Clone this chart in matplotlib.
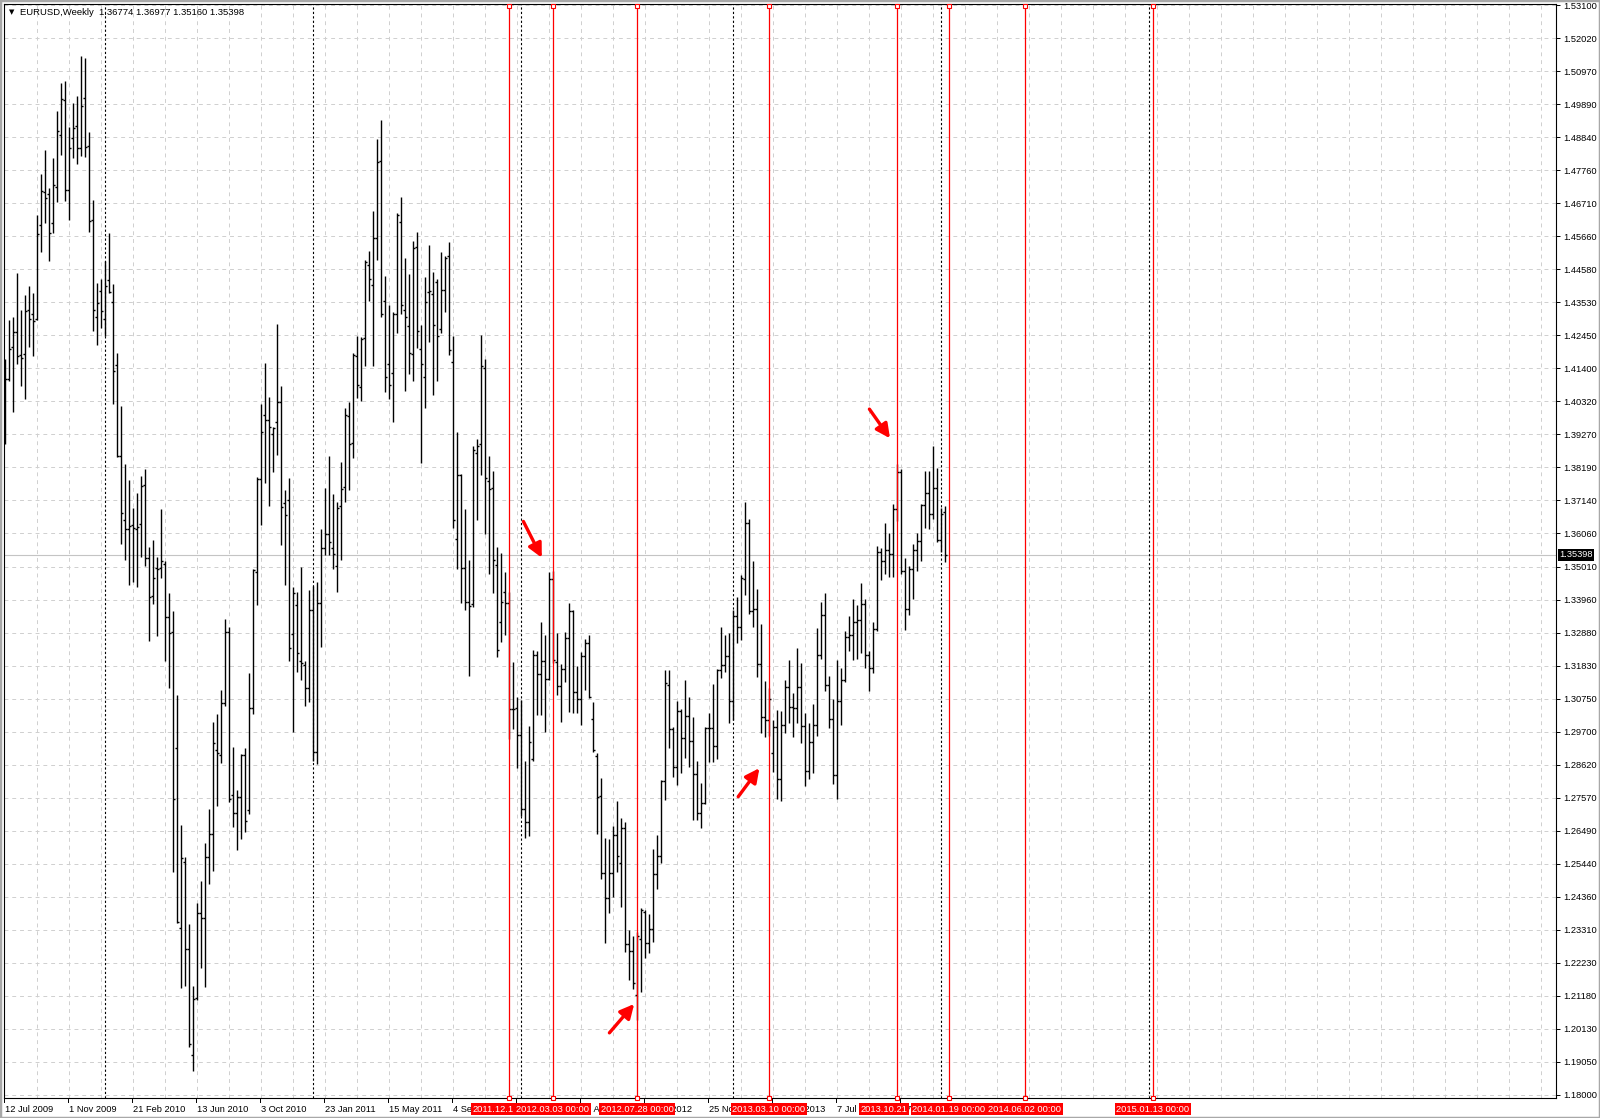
import numpy as np
import matplotlib
matplotlib.use("Agg")
import matplotlib.pyplot as plt
from matplotlib.collections import LineCollection
from matplotlib.patches import Rectangle

plt.rcParams['font.family'] = ['Liberation Sans', 'DejaVu Sans']

# EURUSD weekly bars, first bar = week of 12 Jul 2009
opens = [
    1.3960, 1.4105, 1.4210, 1.4256, 1.4185, 1.4186, 1.4330, 1.4317, 1.4301, 1.4603,
    1.4708, 1.4702, 1.4610, 1.4725, 1.4891, 1.5005, 1.4715, 1.4883, 1.4921, 1.4852,
    1.5010, 1.4858, 1.4618, 1.4307, 1.4390, 1.4301, 1.4426, 1.4354, 1.4152, 1.3859,
    1.3651, 1.3623, 1.3637, 1.3623, 1.3640, 1.3763, 1.3530, 1.3407, 1.3496, 1.3497,
    1.3510, 1.3338, 1.3290, 1.2916, 1.2338, 1.2550, 1.2268, 1.1927, 1.2110, 1.2385,
    1.2370, 1.2565, 1.2640, 1.2911, 1.2893, 1.3061, 1.3291, 1.2765, 1.2708, 1.2760,
    1.2893, 1.2718, 1.3046, 1.3483, 1.3785, 1.3991, 1.3974, 1.3930, 1.3967, 1.4033,
    1.3705, 1.3717, 1.3283, 1.3377, 1.3197, 1.3186, 1.3111, 1.3361, 1.2905, 1.3384,
    1.3560, 1.3608, 1.3561, 1.3504, 1.3697, 1.3758, 1.3986, 1.3900, 1.4181, 1.4080,
    1.4237, 1.4474, 1.4409, 1.4561, 1.4809, 1.4359, 1.4154, 1.4124, 1.4317, 1.4612,
    1.4328, 1.4276, 1.4188, 1.4531, 1.4203, 1.4113, 1.4385, 1.4379, 1.4420, 1.4266,
    1.4393, 1.4501, 1.4162, 1.3592, 1.3797, 1.3497, 1.3386, 1.3380, 1.3866, 1.3897,
    1.4141, 1.3777, 1.3755, 1.3508, 1.3322, 1.3420, 1.3384, 1.3042, 1.3045, 1.2959,
    1.2720, 1.2680, 1.2880, 1.3218, 1.3156, 1.3198, 1.3140, 1.3462, 1.3194, 1.3118,
    1.3170, 1.3270, 1.3359, 1.3096, 1.3075, 1.3214, 1.3255, 1.3011, 1.2890, 1.2763,
    1.2515, 1.2435, 1.2513, 1.2637, 1.2546, 1.2659, 1.2286, 1.2264, 1.2121, 1.2300,
    1.2390, 1.2288, 1.2333, 1.2510, 1.2570, 1.2809, 1.3120, 1.2978, 1.2857, 1.3035,
    1.2949, 1.3021, 1.2938, 1.2832, 1.2709, 1.2741, 1.2981, 1.2981, 1.2924, 1.3167,
    1.3185, 1.3214, 1.3067, 1.3341, 1.3308, 1.3462, 1.3641, 1.3357, 1.3364, 1.3188,
    1.3016, 1.3006, 1.2900, 1.2985, 1.2817, 1.2992, 1.3113, 1.3050, 1.3045, 1.3113,
    1.2987, 1.2844, 1.2935, 1.2992, 1.3217, 1.3345, 1.3120, 1.3010, 1.2830, 1.3067,
    1.3137, 1.3276, 1.3281, 1.3324, 1.3330, 1.3381, 1.3217, 1.3175, 1.3300, 1.3550,
    1.3518, 1.3555, 1.3543, 1.3686, 1.3805, 1.3486, 1.3365, 1.3495, 1.3555, 1.3585,
    1.3700, 1.3740, 1.3670, 1.3754, 1.3588, 1.36774,
]
highs = [
    1.4170, 1.4295, 1.4307, 1.4447, 1.4329, 1.4377, 1.4407, 1.4384, 1.4636, 1.4768,
    1.4845, 1.4721, 1.4819, 1.4970, 1.5061, 1.5065, 1.4919, 1.4995, 1.5018, 1.5148,
    1.5142, 1.4903, 1.4683, 1.4416, 1.4428, 1.4486, 1.4577, 1.4412, 1.4190, 1.4019,
    1.3833, 1.3781, 1.3689, 1.3738, 1.3794, 1.3817, 1.3566, 1.3587, 1.3533, 1.3686,
    1.3518, 1.3416, 1.3357, 1.3088, 1.2669, 1.2565, 1.2349, 1.2151, 1.2416, 1.2487,
    1.2612, 1.2721, 1.3002, 1.3025, 1.3104, 1.3333, 1.3307, 1.2921, 1.2780, 1.2896,
    1.2916, 1.3158, 1.3494, 1.3791, 1.4025, 1.4158, 1.4049, 1.3952, 1.4283, 1.4083,
    1.3749, 1.3786, 1.3436, 1.3421, 1.3499, 1.3197, 1.3425, 1.3439, 1.3452, 1.3622,
    1.3755, 1.3859, 1.3737, 1.3710, 1.3839, 1.4011, 1.4032, 1.4189, 1.4246, 1.4243,
    1.4490, 1.4520, 1.4646, 1.4881, 1.4941, 1.4439, 1.4344, 1.4321, 1.4642, 1.4694,
    1.4497, 1.4443, 1.4551, 1.4579, 1.4280, 1.4436, 1.4537, 1.4452, 1.4429, 1.4515,
    1.4504, 1.4547, 1.4246, 1.3936, 1.3800, 1.3688, 1.3523, 1.3891, 1.3914, 1.4247,
    1.4169, 1.3858, 1.3811, 1.3566, 1.3545, 1.3484, 1.3420, 1.3194, 1.3080, 1.3072,
    1.2876, 1.2987, 1.3233, 1.3228, 1.3322, 1.3281, 1.3483, 1.3486, 1.3286, 1.3187,
    1.3292, 1.3384, 1.3362, 1.3181, 1.3225, 1.3267, 1.3281, 1.3064, 1.2900, 1.2820,
    1.2626, 1.2623, 1.2666, 1.2747, 1.2691, 1.2680, 1.2329, 1.2310, 1.2325, 1.2401,
    1.2395, 1.2383, 1.2591, 1.2637, 1.2814, 1.3167, 1.3169, 1.2984, 1.3070, 1.3042,
    1.3137, 1.3081, 1.3018, 1.2876, 1.2804, 1.2986, 1.3029, 1.3124, 1.3172, 1.3308,
    1.3282, 1.3287, 1.3362, 1.3403, 1.3475, 1.3711, 1.3654, 1.3518, 1.3429, 1.3317,
    1.3133, 1.3110, 1.3008, 1.3040, 1.3035, 1.3137, 1.3201, 1.3094, 1.3239, 1.3190,
    1.3029, 1.2997, 1.3059, 1.3303, 1.3389, 1.3415, 1.3149, 1.3074, 1.3202, 1.3174,
    1.3294, 1.3343, 1.3396, 1.3378, 1.3450, 1.3396, 1.3228, 1.3324, 1.3568, 1.3561,
    1.3643, 1.3609, 1.3704, 1.3832, 1.3815, 1.3530, 1.3502, 1.3575, 1.3611, 1.3704,
    1.3811, 1.3810, 1.3891, 1.3819, 1.3690, 1.36977,
]
lows = [
    1.3897, 1.4100, 1.4001, 1.4154, 1.4084, 1.4042, 1.4209, 1.4180, 1.4297, 1.4514,
    1.4610, 1.4486, 1.4575, 1.4677, 1.4827, 1.4679, 1.4619, 1.4819, 1.4798, 1.4826,
    1.4822, 1.4581, 1.4260, 1.4215, 1.4269, 1.4244, 1.4384, 1.4027, 1.3855, 1.3575,
    1.3524, 1.3441, 1.3451, 1.3435, 1.3534, 1.3502, 1.3263, 1.3380, 1.3279, 1.3466,
    1.3196, 1.3111, 1.2518, 1.2354, 1.2143, 1.2151, 1.1955, 1.1876, 1.2105, 1.2209,
    1.2146, 1.2479, 1.2521, 1.2729, 1.2869, 1.3052, 1.2744, 1.2662, 1.2588, 1.2624,
    1.2646, 1.2705, 1.3025, 1.3377, 1.3635, 1.3771, 1.3697, 1.3806, 1.3861, 1.3572,
    1.3443, 1.3197, 1.2968, 1.3161, 1.3135, 1.3052, 1.3066, 1.2875, 1.2865, 1.3242,
    1.3538, 1.3538, 1.3493, 1.3421, 1.3523, 1.3710, 1.3747, 1.3853, 1.4045, 1.4036,
    1.4148, 1.4357, 1.4148, 1.4490, 1.4307, 1.4063, 1.4043, 1.3968, 1.4253, 1.4317,
    1.4067, 1.4121, 1.4100, 1.4205, 1.3836, 1.4011, 1.4226, 1.4053, 1.4100, 1.4253,
    1.4321, 1.4184, 1.3625, 1.3495, 1.3383, 1.3361, 1.3148, 1.3370, 1.3651, 1.3797,
    1.3606, 1.3478, 1.3417, 1.3211, 1.3257, 1.3281, 1.2946, 1.2979, 1.2852, 1.2698,
    1.2626, 1.2632, 1.2874, 1.3022, 1.3022, 1.2970, 1.3135, 1.3190, 1.3089, 1.3000,
    1.3131, 1.3033, 1.3031, 1.3031, 1.2992, 1.3104, 1.3078, 1.2904, 1.2641, 1.2495,
    1.2288, 1.2385, 1.2438, 1.2516, 1.2404, 1.2258, 1.2170, 1.2140, 1.2042, 1.2132,
    1.2240, 1.2256, 1.2293, 1.2462, 1.2546, 1.2750, 1.2916, 1.2825, 1.2798, 1.2836,
    1.2884, 1.2855, 1.2686, 1.2686, 1.2659, 1.2735, 1.2873, 1.2873, 1.2881, 1.3142,
    1.3163, 1.2997, 1.3008, 1.3255, 1.3265, 1.3410, 1.3349, 1.3306, 1.3145, 1.2965,
    1.2952, 1.2955, 1.2841, 1.2752, 1.2745, 1.2965, 1.2999, 1.2952, 1.2999, 1.2932,
    1.2793, 1.2817, 1.2836, 1.2954, 1.3205, 1.3100, 1.2981, 1.2801, 1.2753, 1.2992,
    1.3130, 1.3228, 1.3201, 1.3203, 1.3222, 1.3174, 1.3102, 1.3159, 1.3295, 1.3459,
    1.3478, 1.3469, 1.3469, 1.3650, 1.3478, 1.3296, 1.3346, 1.3396, 1.3486, 1.3521,
    1.3625, 1.3622, 1.3655, 1.3582, 1.3548, 1.35160,
]
closes = [
    1.4105, 1.4203, 1.4256, 1.4180, 1.4173, 1.4326, 1.4301, 1.4294, 1.4572, 1.4711,
    1.4689, 1.4577, 1.4730, 1.4906, 1.5008, 1.4715, 1.4849, 1.4916, 1.4852, 1.4985,
    1.4855, 1.4616, 1.4330, 1.4352, 1.4326, 1.4407, 1.4388, 1.4131, 1.3859, 1.3673,
    1.3622, 1.3632, 1.3626, 1.3628, 1.3762, 1.3530, 1.3403, 1.3466, 1.3495, 1.3520,
    1.3338, 1.3289, 1.2752, 1.2357, 1.2562, 1.2268, 1.1963, 1.2107, 1.2385, 1.2370,
    1.2565, 1.2640, 1.2932, 1.2901, 1.3061, 1.3291, 1.2752, 1.2708, 1.2760, 1.2893,
    1.2682, 1.3046, 1.3489, 1.3785, 1.3936, 1.3974, 1.3952, 1.3947, 1.4033, 1.3692,
    1.3669, 1.3240, 1.3416, 1.3224, 1.3190, 1.3111, 1.3361, 1.2905, 1.3384, 1.3560,
    1.3608, 1.3581, 1.3543, 1.3690, 1.3751, 1.3991, 1.3896, 1.4185, 1.4086, 1.4235,
    1.4484, 1.4429, 1.4561, 1.4805, 1.4314, 1.4114, 1.4086, 1.4317, 1.4633, 1.4344,
    1.4307, 1.4189, 1.4528, 1.4262, 1.4154, 1.4355, 1.4389, 1.4280, 1.4246, 1.4393,
    1.4497, 1.4201, 1.3652, 1.3797, 1.3497, 1.3386, 1.3375, 1.3877, 1.3891, 1.4149,
    1.3786, 1.3750, 1.3522, 1.3233, 1.3389, 1.3384, 1.3042, 1.3043, 1.2959, 1.2720,
    1.2680, 1.2935, 1.3218, 1.3156, 1.3198, 1.3140, 1.3462, 1.3200, 1.3118, 1.3170,
    1.3270, 1.3359, 1.3096, 1.3076, 1.3214, 1.3255, 1.3081, 1.2909, 1.2759, 1.2515,
    1.2435, 1.2513, 1.2637, 1.2570, 1.2659, 1.2286, 1.2264, 1.2159, 1.2310, 1.2395,
    1.2288, 1.2333, 1.2510, 1.2570, 1.2809, 1.3126, 1.2978, 1.2857, 1.3035, 1.2949,
    1.3021, 1.2938, 1.2832, 1.2709, 1.2741, 1.2981, 1.2981, 1.2924, 1.3167, 1.3185,
    1.3214, 1.3067, 1.3341, 1.3308, 1.3464, 1.3641, 1.3357, 1.3364, 1.3188, 1.3016,
    1.3006, 1.3075, 1.2985, 1.2817, 1.2992, 1.3113, 1.3050, 1.3045, 1.3113, 1.2987,
    1.2844, 1.2935, 1.2992, 1.3217, 1.3345, 1.3120, 1.3010, 1.2830, 1.3067, 1.3137,
    1.3276, 1.3281, 1.3324, 1.3330, 1.3381, 1.3217, 1.3175, 1.3300, 1.3550, 1.3518,
    1.3555, 1.3543, 1.3686, 1.3805, 1.3486, 1.3365, 1.3495, 1.3555, 1.3585, 1.3700,
    1.3740, 1.3670, 1.3754, 1.3588, 1.3670, 1.35398,
]

price_labels = ['1.53100', '1.52020', '1.50970', '1.49890', '1.48840', '1.47760',
                '1.46710', '1.45660', '1.44580', '1.43530', '1.42450', '1.41400',
                '1.40320', '1.39270', '1.38190', '1.37140', '1.36060', '1.35010',
                '1.33960', '1.32880', '1.31830', '1.30750', '1.29700', '1.28620',
                '1.27570', '1.26490', '1.25440', '1.24360', '1.23310', '1.22230',
                '1.21180', '1.20130', '1.19050', '1.18000']
date_labels = ['12 Jul 2009', '1 Nov 2009', '21 Feb 2010', '13 Jun 2010', '3 Oct 2010',
               '23 Jan 2011', '15 May 2011', '4 Sep 2011', '25 Dec 2011', '15 Apr 2012',
               '5 Aug 2012', '25 Nov 2012', '17 Mar 2013', '7 Jul 2013', '27 Oct 2013']
date_label_bars = [0, 16, 32, 48, 64, 80, 96, 112, 128, 144, 160, 176, 192, 208, 224]
year_sep_bars = [25, 77, 129, 182, 234, 286]

vline_bars = [126, 137, 158, 191, 223, 236, 255, 287]
# label texts as visible on the time axis (two of them are cut by the next label)
vline_texts = ['2011.12.1', '2012.03.03 00:00', '2012.07.28 00:00',
               '2013.03.10 00:00', '2013.10.21', '2014.01.19 00:00',
               '2014.06.02 00:00', '2015.01.13 00:00']
vline_cut = [True, False, False, False, True, False, False, False]

arrow_from = [(129.6, 1.3647), (151.1, 1.1999), (183.3, 1.2760), (216.1, 1.4009)]
arrow_to = [(134.2, 1.3530), (157.3, 1.2092), (188.6, 1.2852), (221.25, 1.3915)]

last_price = 1.35398
title = 'EURUSD,Weekly  1.36774 1.36977 1.35160 1.35398'

# ---- figure / axes laid out in pixels
W, H = 1600, 1118
fig = plt.figure(figsize=(W / 100, H / 100), dpi=100)
ax_l, ax_r, ax_t, ax_b = 3.5, 1556, 3.5, 1097.5
ax = fig.add_axes([ax_l / W, 1 - ax_b / H, (ax_r - ax_l) / W, (ax_b - ax_t) / H])

ppx = 0.351 / 1089.2  # price per pixel
ax.set_ylim(1.18 - (ax_b - 1094.6) * ppx, 1.18 + (1094.6 - ax_t) * ppx)
ax.set_xlim((ax_l - 5) / 4, (ax_r - 5) / 4)

ticks = np.linspace(1.531, 1.18, len(price_labels))
ax.yaxis.tick_right()
ax.set_yticks(ticks)
ax.set_yticklabels(price_labels)
ax.tick_params(axis='y', direction='out', length=3, width=0.7, pad=2.5,
               labelsize=6.7, colors='black')
ax.set_xticks([])
for s in ax.spines.values():
    s.set_color('black')
    s.set_linewidth(0.8)

# grid
for t in ticks:
    ax.axhline(t, color='#cfcfcf', lw=0.7, ls=(0, (4, 4)), zorder=0)
for k in range(8, 388, 8):
    ax.axvline(k, color='#cfcfcf', lw=0.7, ls=(0, (4, 4)), zorder=0)

# current price line
ax.axhline(last_price, color='#c4c4c4', lw=0.8, zorder=1)

# year separators
for k in year_sep_bars:
    ax.axvline(k, color='black', lw=0.8, ls=(0, (2, 2)), zorder=2)

# OHLC bars
segs = []
for i in range(len(closes)):
    segs.append([(i, lows[i]), (i, highs[i])])
    segs.append([(i - 0.55, opens[i]), (i, opens[i])])
    segs.append([(i, closes[i]), (i + 0.55, closes[i])])
ax.add_collection(LineCollection(segs, colors='black', linewidths=1.0, zorder=3))

# red vertical lines
xt = ax.get_xaxis_transform()
for k in vline_bars:
    ax.axvline(k, color='red', lw=0.9, zorder=5)
ax.plot(vline_bars, [0.9975] * len(vline_bars), 's', ms=3.2, mfc='white', mec='red',
        mew=0.8, transform=xt, clip_on=False, zorder=6)
ax.plot(vline_bars, [0.0] * len(vline_bars), 's', ms=3.2, mfc='white', mec='red',
        mew=0.8, transform=xt, clip_on=False, zorder=6)

# arrows
for a, b in zip(arrow_from, arrow_to):
    ax.annotate('', xy=b, xytext=a,
                arrowprops=dict(arrowstyle='-|>,head_length=0.7,head_width=0.35',
                                color='red', lw=2.4, shrinkA=0, shrinkB=0,
                                mutation_scale=12), zorder=7)

# time axis labels
lab_y = (ax_b - 1109) / (ax_b - ax_t)
for k, s in zip(date_label_bars, date_labels):
    ax.plot([k - 0.3, k - 0.3], [0, -0.004], color='black', lw=0.7,
            transform=xt, clip_on=False, zorder=3)
    ax.text(k + 0.1, lab_y, s, transform=xt, ha='left', va='center',
            fontsize=6.7, color='black', clip_on=False, zorder=3)
for i, (k, s, cut) in enumerate(zip(vline_bars, vline_texts, vline_cut)):
    if cut:
        xpos, ha = k - 9.1, 'left'
    else:
        xpos, ha = k, 'center'
    ax.text(xpos, lab_y, s, transform=xt, ha=ha, va='center', fontsize=6.7,
            color='white', clip_on=False, zorder=10 + i,
            bbox=dict(boxstyle='square,pad=0.2', facecolor='red', edgecolor='none'))

# current price box on the axis
fig.text(1559.5 / W, 1 - 554.7 / H, f'{last_price:.5f}', ha='left', va='center',
         fontsize=6.7, color='white',
         bbox=dict(boxstyle='square,pad=0.15', facecolor='black', edgecolor='none'))

# header
fig.text(11.5 / W, 1 - 12.5 / H, '\u25BC', ha='center', va='center', fontsize=5,
         family='DejaVu Sans', color='black')
fig.text(20.5 / W, 1 - 12.7 / H, title, ha='left', va='center', fontsize=6.8,
         color='black')

fig.patches.append(Rectangle((0, 0), 1, 1, transform=fig.transFigure, fill=False,
                             edgecolor='#a8a8a8', lw=2.5))

fig.savefig('out.png', dpi=100, facecolor='white')
